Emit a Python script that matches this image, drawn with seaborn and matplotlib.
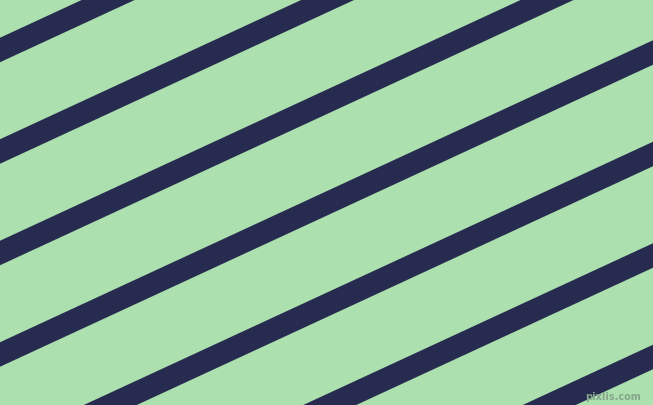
import pandas as pd
import seaborn as sns
from matplotlib import pyplot as plt

bg_color = "#ace1af"
stripe_color = "#282b50"

# y where each stripe's centre line meets the left edge (pixels from top)
stripe_offsets = [-50.5, 51, 152.5, 254, 355.5, 457, 558.5, 660, 761.5]
stripe_slope = 0.4625  # pixels up per pixel right
stripe_height = 24.5   # vertical thickness of a stripe
x_ends = [-30, 690]

# each stripe is a band between its lower and upper edge
rows = []
for i, y0 in enumerate(stripe_offsets):
    for x in x_ends:
        yc = y0 - stripe_slope * x
        for edge in (-0.5, 0.5):
            rows.append({"stripe": i, "x": x, "y": yc + edge * stripe_height})
df = pd.DataFrame(rows)

sns.set_theme(style="white")
fig = plt.figure(figsize=(6.53, 4.06), dpi=100)
ax = fig.add_axes([0, 0, 1, 1])
ax.set_facecolor(bg_color)

sns.lineplot(
    data=df, x="x", y="y", hue="stripe",
    palette=[stripe_color] * len(stripe_offsets),
    estimator="mean", errorbar=("pi", 100),
    err_kws={"alpha": 1, "linewidth": 0},
    linewidth=0, legend=False, ax=ax,
)

ax.set_xlim(0, 653)
ax.set_ylim(406, 0)
ax.set_axis_off()

ax.text(641, 397, "pixlis.com", fontsize=7, color="#86a58a",
        ha="right", va="center", family="DejaVu Sans", weight="bold")

fig.savefig("out.png", dpi=100, facecolor=bg_color)
